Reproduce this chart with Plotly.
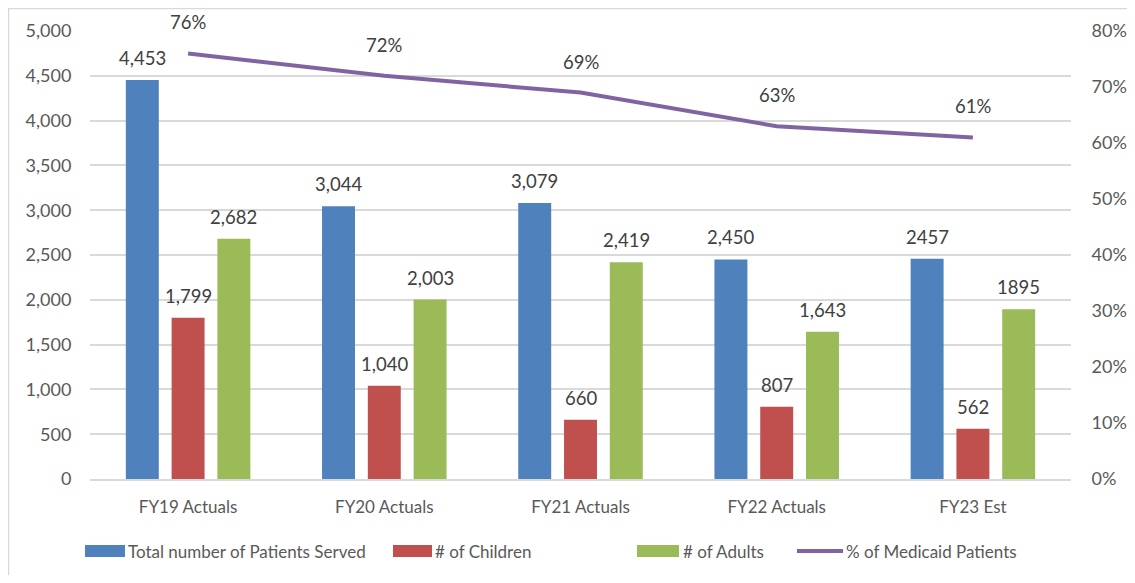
import plotly.graph_objects as go

categories = ["FY19 Actuals", "FY20 Actuals", "FY21 Actuals", "FY22 Actuals", "FY23 Est"]
total_patients = [4453, 3044, 3079, 2450, 2457]
total_labels = ["4,453", "3,044", "3,079", "2,450", "2457"]
children = [1799, 1040, 660, 807, 562]
children_labels = ["1,799", "1,040", "660", "807", "562"]
adults = [2682, 2003, 2419, 1643, 1895]
adults_labels = ["2,682", "2,003", "2,419", "1,643", "1895"]
medicaid_pct = [0.76, 0.72, 0.69, 0.63, 0.61]
medicaid_labels = ["76%", "72%", "69%", "63%", "61%"]

series_names = ["Total number of Patients Served", "# of Children", "# of Adults", "% of Medicaid Patients"]
colors = ["#4F81BD", "#C0504D", "#9BBB59", "#8064A2"]

FONT = "Lato"
LBL = dict(family=FONT, size=18.5, color="#404040")
YTICK = dict(family=FONT, size=18, color="#595959")
XTICK = dict(family=FONT, size=17, color="#595959")
LEG = dict(family=FONT, size=17, color="#595959")

# page body has an 8px margin: figure sized to fit inside window
W, H = 1119, 567
ml, mr, mt, mb = 82, 56, 23, 96
pw, ph = W - ml - mr, H - mt - mb
BARGAP = 0.30
GROUPGAP = 0.28


def px(fx):
    return (fx - ml) / pw


def py(fy):
    return (H - mb - fy) / ph


fig = go.Figure()
bar_series = [(total_patients, total_labels), (children, children_labels), (adults, adults_labels)]
slot = pw / len(categories) * (1 - BARGAP) / 3
for i, (vals, labs) in enumerate(bar_series):
    fig.add_trace(go.Bar(x=categories, y=vals, name=series_names[i], marker_color=colors[i],
                         marker_line_width=0, showlegend=False))
    for c, v, t in zip(categories, vals, labs):
        fig.add_annotation(x=c, y=v, xref="x", yref="y", text=t, showarrow=False,
                           xshift=(i - 1) * slot, yshift=22, font=LBL)

fig.add_trace(go.Scatter(x=categories, y=medicaid_pct, name=series_names[3],
                         mode="lines", line=dict(color=colors[3], width=4), yaxis="y2",
                         showlegend=False))
for c, v, t in zip(categories, medicaid_pct, medicaid_labels):
    fig.add_annotation(x=c, y=v, xref="x", yref="y2", text=t, showarrow=False,
                       yshift=31, font=LBL)

# custom legend (wide swatches like the original), figure-pixel positions
swatches = [(77, 117, 118), (385, 424, 425), (629, 671, 673), (789, 835, 836)]
ly = 543
for (x0, x1, tx), name, col in zip(swatches, series_names, colors):
    if name.startswith("%"):
        fig.add_shape(type="line", xref="paper", yref="paper", x0=px(x0), x1=px(x1),
                      y0=py(ly), y1=py(ly), line=dict(color=col, width=4))
    else:
        fig.add_shape(type="rect", xref="paper", yref="paper", x0=px(x0), x1=px(x1),
                      y0=py(ly + 6), y1=py(ly - 6), line=dict(width=0), fillcolor=col)
    fig.add_annotation(x=px(tx), y=py(ly), xref="paper", yref="paper", text=name,
                       showarrow=False, xanchor="left", yanchor="middle", font=LEG)

# chart border
fig.add_shape(type="rect", xref="paper", yref="paper",
              x0=px(0.5), x1=px(W + 5), y0=py(H + 5), y1=py(0.5),
              line=dict(color="#D9D9D9", width=1.5), fillcolor="rgba(0,0,0,0)", layer="below")

fig.update_layout(
    width=W, height=H,
    margin=dict(l=ml, r=mr, t=mt, b=mb, autoexpand=False),
    paper_bgcolor="white", plot_bgcolor="white",
    font=dict(family=FONT, size=17, color="#595959"),
    barmode="group", bargap=BARGAP, bargroupgap=GROUPGAP,
    showlegend=False,
    xaxis=dict(showgrid=False, showline=True, linecolor="#D9D9D9", linewidth=2,
               ticks="outside", ticklen=12, tickcolor="rgba(0,0,0,0)", tickfont=XTICK),
    yaxis=dict(range=[0, 5000], dtick=500, tickformat=",", showgrid=True,
               gridcolor="#D9D9D9", gridwidth=1.5, zeroline=False, showline=False,
               ticks="outside", ticklen=14, tickcolor="rgba(0,0,0,0)", tickfont=YTICK),
    yaxis2=dict(range=[0, 0.8], dtick=0.1, tickformat=".0%", overlaying="y", side="right",
                showgrid=False, zeroline=False, showline=False,
                ticks="outside", ticklen=16, tickcolor="rgba(0,0,0,0)", tickfont=YTICK),
)

fig.write_html("out.html")
